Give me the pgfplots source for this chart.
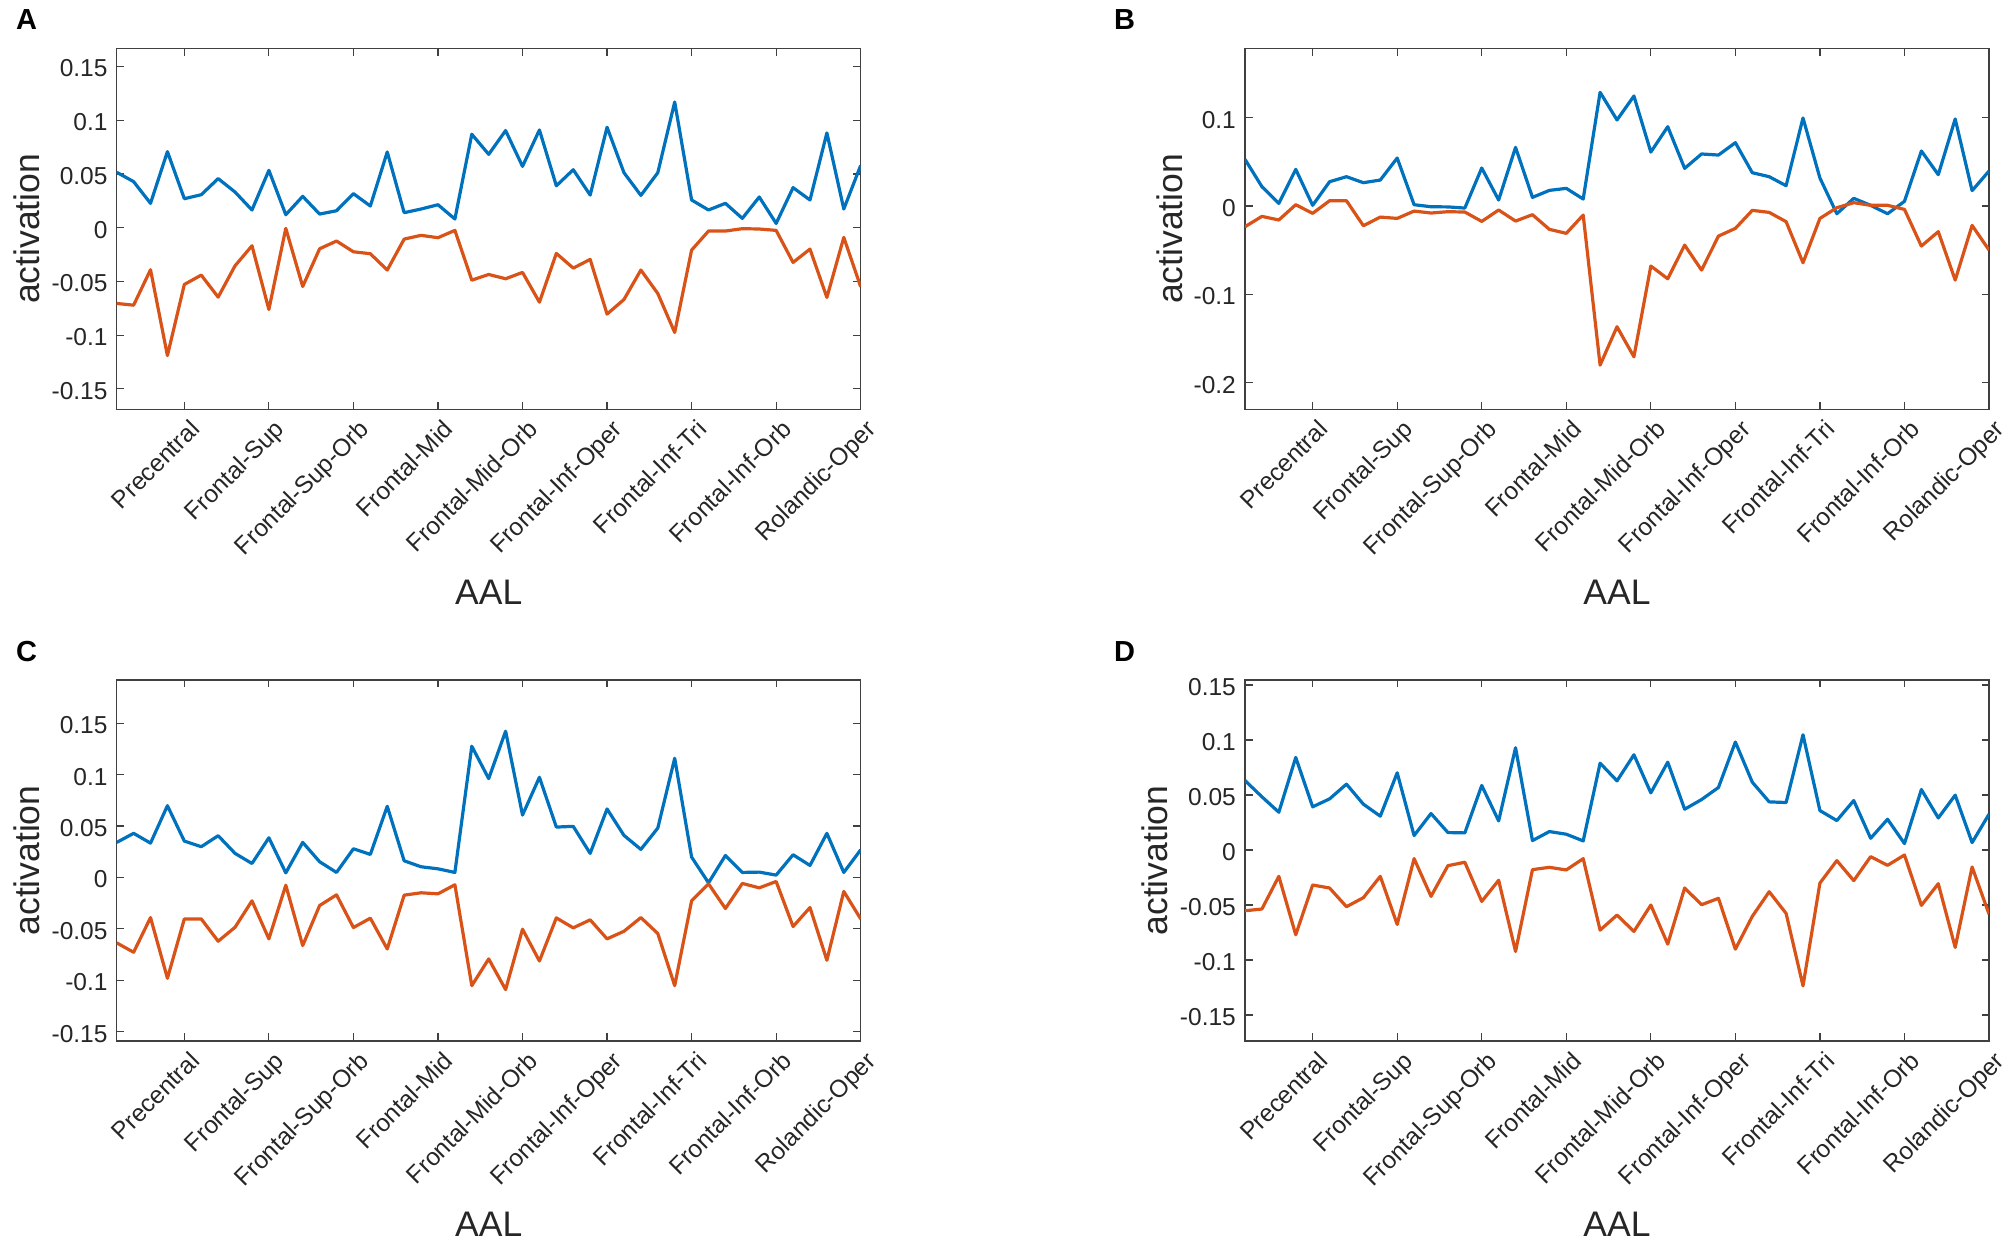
\documentclass[border=0pt]{standalone}
\usepackage{fontspec}
\setmainfont{Liberation Sans}
\usepackage{pgfplots}
\usepackage{pgfplotstable}
\pgfplotsset{compat=1.18}

\definecolor{mblue}{HTML}{0072BD}
\definecolor{mred}{HTML}{D95319}
\definecolor{axisgray}{HTML}{404040}
\definecolor{txt}{HTML}{262626}

\newcommand\ticfont{\fontsize{24.5bp}{29bp}\selectfont}
\newcommand\labfont{\fontsize{35.5bp}{42bp}\selectfont}
\newcommand\letfont{\fontsize{29bp}{34bp}\selectfont\bfseries}

% i  blue  red  (one table per panel)
\pgfplotstableread{
i blue red
1 0.0516 -0.0705
2 0.0429 -0.0721
3 0.0227 -0.0391
4 0.0708 -0.1190
5 0.0270 -0.0528
6 0.0307 -0.0441
7 0.0457 -0.0646
8 0.0332 -0.0354
9 0.0165 -0.0168
10 0.0534 -0.0761
11 0.0121 -0.0006
12 0.0292 -0.0547
13 0.0127 -0.0196
14 0.0158 -0.0124
15 0.0317 -0.0224
16 0.0202 -0.0242
17 0.0705 -0.0394
18 0.0140 -0.0106
19 0.0174 -0.0071
20 0.0214 -0.0093
21 0.0081 -0.0025
22 0.0870 -0.0488
23 0.0683 -0.0435
24 0.0904 -0.0475
25 0.0571 -0.0416
26 0.0910 -0.0693
27 0.0390 -0.0239
28 0.0540 -0.0376
29 0.0304 -0.0295
30 0.0935 -0.0804
31 0.0512 -0.0668
32 0.0301 -0.0394
33 0.0512 -0.0612
34 0.1170 -0.0975
35 0.0258 -0.0208
36 0.0165 -0.0031
37 0.0227 -0.0031
38 0.0087 -0.0009
39 0.0286 -0.0012
40 0.0040 -0.0025
41 0.0373 -0.0323
42 0.0258 -0.0199
43 0.0882 -0.0649
44 0.0174 -0.0090
45 0.0580 -0.0550
}\dataA

\pgfplotstableread{
i blue red
1 0.0528 -0.0234
2 0.0219 -0.0117
3 0.0030 -0.0158
4 0.0415 0.0015
5 0.0008 -0.0083
6 0.0275 0.0060
7 0.0332 0.0060
8 0.0264 -0.0223
9 0.0294 -0.0125
10 0.0543 -0.0140
11 0.0015 -0.0057
12 -0.0008 -0.0079
13 -0.0010 -0.0064
14 -0.0023 -0.0068
15 0.0430 -0.0174
16 0.0068 -0.0045
17 0.0664 -0.0170
18 0.0098 -0.0098
19 0.0177 -0.0264
20 0.0200 -0.0309
21 0.0079 -0.0102
22 0.1287 -0.1800
23 0.0974 -0.1366
24 0.1245 -0.1706
25 0.0611 -0.0679
26 0.0898 -0.0823
27 0.0426 -0.0442
28 0.0589 -0.0725
29 0.0577 -0.0340
30 0.0717 -0.0253
31 0.0377 -0.0049
32 0.0332 -0.0072
33 0.0230 -0.0177
34 0.0996 -0.0642
35 0.0317 -0.0140
36 -0.0087 -0.0019
37 0.0087 0.0038
38 0.0008 0.0008
39 -0.0087 0.0008
40 0.0053 -0.0038
41 0.0623 -0.0453
42 0.0355 -0.0290
43 0.0985 -0.0838
44 0.0174 -0.0219
45 0.0396 -0.0498
}\dataB

\pgfplotstableread{
i blue red
1 0.0341 -0.0636
2 0.0429 -0.0727
3 0.0334 -0.0390
4 0.0698 -0.0980
5 0.0354 -0.0403
6 0.0299 -0.0403
7 0.0406 -0.0620
8 0.0234 -0.0484
9 0.0136 -0.0227
10 0.0386 -0.0597
11 0.0045 -0.0075
12 0.0341 -0.0662
13 0.0153 -0.0273
14 0.0049 -0.0169
15 0.0279 -0.0487
16 0.0224 -0.0396
17 0.0692 -0.0695
18 0.0162 -0.0172
19 0.0104 -0.0149
20 0.0084 -0.0159
21 0.0049 -0.0071
22 0.1276 -0.1052
23 0.0961 -0.0792
24 0.1422 -0.1090
25 0.0607 -0.0503
26 0.0974 -0.0812
27 0.0490 -0.0393
28 0.0497 -0.0490
29 0.0234 -0.0412
30 0.0666 -0.0597
31 0.0409 -0.0523
32 0.0273 -0.0390
33 0.0480 -0.0545
34 0.1159 -0.1052
35 0.0198 -0.0227
36 -0.0052 -0.0062
37 0.0214 -0.0302
38 0.0049 -0.0058
39 0.0052 -0.0101
40 0.0023 -0.0039
41 0.0221 -0.0477
42 0.0117 -0.0292
43 0.0429 -0.0805
44 0.0049 -0.0136
45 0.0269 -0.0403
}\dataC

\pgfplotstableread{
i blue red
1 0.0631 -0.0553
2 0.0483 -0.0537
3 0.0343 -0.0240
4 0.0841 -0.0771
5 0.0392 -0.0319
6 0.0464 -0.0346
7 0.0598 -0.0516
8 0.0416 -0.0434
9 0.0307 -0.0240
10 0.0701 -0.0677
11 0.0131 -0.0079
12 0.0331 -0.0422
13 0.0158 -0.0143
14 0.0155 -0.0112
15 0.0586 -0.0468
16 0.0264 -0.0276
17 0.0929 -0.0923
18 0.0085 -0.0179
19 0.0167 -0.0158
20 0.0143 -0.0182
21 0.0082 -0.0079
22 0.0789 -0.0729
23 0.0628 -0.0592
24 0.0865 -0.0741
25 0.0519 -0.0501
26 0.0798 -0.0856
27 0.0370 -0.0346
28 0.0458 -0.0498
29 0.0568 -0.0440
30 0.0981 -0.0902
31 0.0616 -0.0604
32 0.0437 -0.0380
33 0.0431 -0.0577
34 0.1047 -0.1236
35 0.0358 -0.0301
36 0.0267 -0.0097
37 0.0449 -0.0279
38 0.0106 -0.0061
39 0.0279 -0.0140
40 0.0058 -0.0046
41 0.0549 -0.0504
42 0.0291 -0.0307
43 0.0498 -0.0886
44 0.0067 -0.0155
45 0.0325 -0.0583
}\dataD

\pgfplotsset{
  panel/.style={
    scale only axis, width=744bp, height=361bp,
    anchor=south west,
    xmin=1, xmax=45,
    xtick={5,10,...,45},
    xticklabels={Precentral,Frontal-Sup,Frontal-Sup-Orb,Frontal-Mid,Frontal-Mid-Orb,Frontal-Inf-Oper,Frontal-Inf-Tri,Frontal-Inf-Orb,Rolandic-Oper},
    axis line style={draw=axisgray, line width=1.2bp},
    tick style={draw=axisgray, line width=1.2bp},
    major tick length=7.5bp,
    tick align=inside,
    xticklabel style={xshift=4bp, yshift=-9bp, rotate=45, anchor=north east, inner sep=0pt, font=\ticfont, text=txt},
    yticklabel style={xshift=-9bp, yshift=-2bp, anchor=east, inner sep=0pt, font=\ticfont, text=txt},
    xlabel={AAL}, ylabel={activation},
    every axis x label/.style={at={(axis description cs:0.5,-0.542)}, anchor=base, inner sep=0pt, font=\labfont, text=txt},
    every axis plot/.append style={line width=3.2bp, line join=round, mark=none},
  },
  ylabpos/.style={every axis y label/.style={at={(axis description cs:-#1,0.5)}, rotate=90, anchor=south, inner sep=0pt, font=\labfont, text=txt}},
  ticks15/.style={ytick={-0.15,-0.1,-0.05,0,0.05,0.1,0.15}, yticklabels={-0.15,-0.1,-0.05,0,0.05,0.1,0.15}},
}

\begin{document}
\begin{tikzpicture}
\path[use as bounding box] (0,0) rectangle (2008bp,1241bp);

% A
\begin{axis}[panel, ticks15, ylabpos=0.1031, at={(116.7bp,831.7bp)}, ymin=-0.169, ymax=0.167]
  \addplot[mblue] table[x=i, y=blue] {\dataA};
  \addplot[mred] table[x=i, y=red] {\dataA};
\end{axis}

% B
\begin{axis}[panel, ylabpos=0.0829, at={(1245bp,831.7bp)}, ymin=-0.230, ymax=0.1785,
  ytick={-0.2,-0.1,0,0.1}, yticklabels={-0.2,-0.1,0,0.1}]
  \addplot[mblue] table[x=i, y=blue] {\dataB};
  \addplot[mred] table[x=i, y=red] {\dataB};
\end{axis}

% C
\begin{axis}[panel, ticks15, ylabpos=0.1031, at={(116.7bp,200bp)}, ymin=-0.159, ymax=0.192]
  \addplot[mblue] table[x=i, y=blue] {\dataC};
  \addplot[mred] table[x=i, y=red] {\dataC};
\end{axis}

% D
\begin{axis}[panel, ticks15, ylabpos=0.1031, at={(1245bp,200bp)}, ymin=-0.1737, ymax=0.1545]
  \addplot[mblue] table[x=i, y=blue] {\dataD};
  \addplot[mred] table[x=i, y=red] {\dataD};
\end{axis}

\node[anchor=base west, inner sep=0pt, font=\letfont] at (16bp,1211.7bp) {A};
\node[anchor=base west, inner sep=0pt, font=\letfont] at (1114bp,1211.7bp) {B};
\node[anchor=base west, inner sep=0pt, font=\letfont] at (16bp,579.3bp) {C};
\node[anchor=base west, inner sep=0pt, font=\letfont] at (1114bp,579.3bp) {D};
\end{tikzpicture}
\end{document}
